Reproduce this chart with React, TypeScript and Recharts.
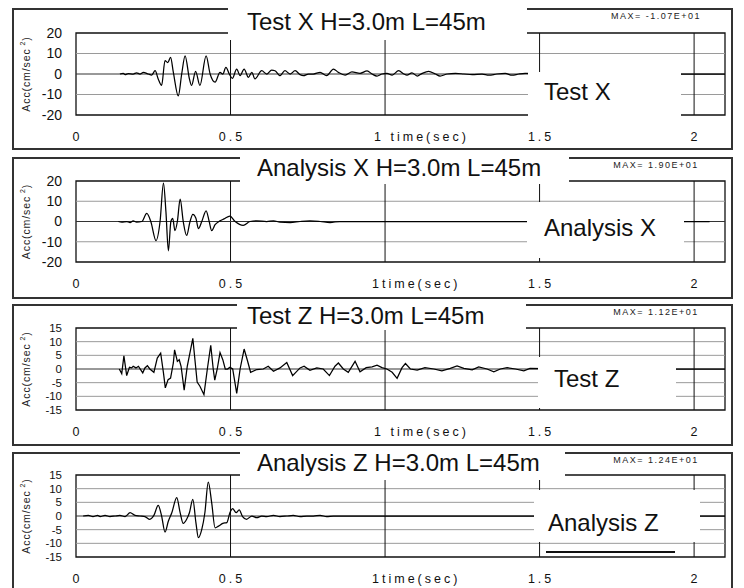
import React from "react";
import { LineChart, Line, XAxis, YAxis, ReferenceLine, ReferenceArea, Label } from "recharts";

const FONT = '"Liberation Sans", Arial, Helvetica, sans-serif';

// time (sec) and acceleration (cm/sec^2)
const testXTime = [0.142, 0.153, 0.159, 0.169, 0.185, 0.196, 0.207, 0.218, 0.234, 0.245, 0.256, 0.266, 0.277, 0.288, 0.297, 0.306, 0.315, 0.331, 0.342, 0.353, 0.367, 0.374, 0.387, 0.401, 0.421, 0.434, 0.45, 0.466, 0.475, 0.485, 0.496, 0.506, 0.52, 0.531, 0.544, 0.558, 0.569, 0.579, 0.601, 0.617, 0.633, 0.644, 0.66, 0.676, 0.693, 0.709, 0.725, 0.736, 0.752, 0.768, 0.79, 0.811, 0.833, 0.849, 0.871, 0.893, 0.919, 0.942, 0.958, 0.974, 0.99, 1.006, 1.023, 1.044, 1.061, 1.071, 1.087, 1.104, 1.12, 1.141, 1.163, 1.178, 1.201, 1.228, 1.255, 1.282, 1.314, 1.336, 1.362, 1.389, 1.411, 1.433, 1.453, 1.6, 1.8, 2.0, 2.1];
const testXAcc = [0, 0.3, -0.3, 0.2, 0, 0.6, 0, 0.8, 0, -0.5, 1.6, -2.4, -5.6, 6.5, 5.6, 8.1, 0.8, -10.7, 0, 8.9, -2.4, -5.6, 1.3, -5.6, 8.9, 0, -4, 0.8, 0, 3.2, 0, -2.1, 2.4, -0.8, 2.4, -1.6, 0.8, -2.4, 1.6, 0, 1.9, 1.6, -0.8, 1.6, 0, 1.6, -0.3, -0.8, 0, 0, 0.8, -0.8, 2.4, 0.8, -0.5, 1.0, 0.3, 1.5, 0, -1, 0, 0.3, -0.5, 1.6, 0, -0.5, 0.6, -1, 0.3, 1.3, 0, -1, 0, 0.3, 0, -0.3, 0, -0.6, 0, 0.3, -0.6, 0, 0.3, 0, 0, 0, 0];

const anaXTime = [0.137, 0.148, 0.164, 0.175, 0.185, 0.196, 0.213, 0.229, 0.242, 0.259, 0.272, 0.283, 0.291, 0.299, 0.307, 0.313, 0.32, 0.328, 0.337, 0.347, 0.358, 0.369, 0.378, 0.388, 0.396, 0.407, 0.421, 0.431, 0.439, 0.45, 0.466, 0.479, 0.498, 0.515, 0.541, 0.563, 0.585, 0.617, 0.639, 0.66, 0.693, 0.725, 0.757, 0.79, 0.822, 0.854, 0.95, 1.1, 1.3, 1.45, 1.7, 2.05];
const anaXAcc = [0, -0.3, 0, -0.5, 0.3, -0.3, 0, 4.0, 0, -9.4, 0, 19.0, 4.8, -14.5, 0, 1.6, -4.5, 0, 11, 0, -6.9, 0, 3.5, 1.6, -3.5, 0, 5.3, 0, -4.5, -1.6, 0.3, 1.3, 2.7, 0, -1.9, 0, 0.3, 0, 0.3, -0.3, -0.5, 0, 0.3, 0, -0.5, 0, 0, 0, 0, 0, 0, 0];

const testZTime = [0.14, 0.148, 0.155, 0.164, 0.173, 0.18, 0.185, 0.194, 0.202, 0.209, 0.216, 0.223, 0.231, 0.239, 0.252, 0.263, 0.274, 0.283, 0.289, 0.298, 0.306, 0.315, 0.319, 0.328, 0.334, 0.34, 0.35, 0.36, 0.378, 0.388, 0.392, 0.401, 0.414, 0.425, 0.436, 0.444, 0.449, 0.457, 0.466, 0.475, 0.483, 0.49, 0.498, 0.507, 0.52, 0.531, 0.544, 0.554, 0.565, 0.585, 0.606, 0.622, 0.639, 0.66, 0.682, 0.701, 0.725, 0.738, 0.757, 0.779, 0.8, 0.82, 0.838, 0.849, 0.865, 0.881, 0.903, 0.919, 0.939, 0.958, 0.974, 0.99, 1.006, 1.023, 1.039, 1.055, 1.066, 1.082, 1.104, 1.129, 1.158, 1.184, 1.211, 1.233, 1.255, 1.282, 1.303, 1.33, 1.352, 1.373, 1.395, 1.422, 1.449, 1.469, 1.6, 1.8, 2.0, 2.1];
const testZAcc = [0, -1.7, 4.8, -2.4, 0.6, 0.4, 1, 0.4, 1, -0.2, -1.4, 0.4, 1.2, 0, -1.2, 4, 5.8, -1.4, -6.9, -3.9, -3.3, 2.2, 7, 2.8, 3.4, 1, -7.7, 1, 11.2, -0.2, -4.8, -6.3, -9.4, 0, 8.7, 0, -4.1, 0, 6, 3.4, 0, 0, 0.6, 0, -8.9, 0, 7.3, 3.4, -1.2, -0.2, 0, 1, -0.8, 0.4, 2.4, -2.4, 0.4, 1, -0.5, 0.4, 0, -2.4, 1, 2.2, 0, -1.2, 2.8, -1, 0.5, 0.8, 1.4, 0.5, 0, -1.2, -3.4, 0.5, 2.0, 0, -0.4, 0.5, 0, -0.7, 0.2, 1.1, 0.2, -0.3, 0.8, 0, -1, 0, 0.5, 0, -0.7, 0.2, 0, 0, 0, 0];

const anaZTime = [0.023, 0.04, 0.055, 0.07, 0.078, 0.094, 0.11, 0.126, 0.142, 0.159, 0.175, 0.191, 0.207, 0.223, 0.239, 0.252, 0.266, 0.277, 0.288, 0.299, 0.31, 0.326, 0.337, 0.347, 0.358, 0.367, 0.378, 0.388, 0.396, 0.407, 0.417, 0.428, 0.439, 0.45, 0.461, 0.475, 0.488, 0.498, 0.507, 0.518, 0.528, 0.539, 0.552, 0.569, 0.585, 0.601, 0.617, 0.639, 0.66, 0.682, 0.703, 0.725, 0.747, 0.768, 0.79, 0.811, 0.833, 0.854, 1.0, 1.2, 1.4, 1.6, 1.8, 2.1];
const anaZAcc = [0, 0.2, -0.2, 0.2, -0.2, 0.2, -0.2, 0, 0.2, -0.2, 1.2, 0.2, 0, -0.2, -1.2, 0.2, 3.9, 0, -5.9, -1.8, 1.2, 6.7, 1.2, -2.7, -1.2, 1.2, 6.1, -2.4, -7.9, -4.9, 1.2, 12.4, 4.9, -4.3, -3.7, -2.7, -2.4, 1.2, 2.7, 1.2, 2.2, -0.2, -1.2, 0, -0.6, 0, -0.2, 0.2, -0.2, 0, 0.2, -0.2, 0, 0, 0.2, -0.2, 0, 0, 0, 0, 0, 0, 0, 0];

const timeTicks = [0, 0.5, 1, 1.5, 2];
const ticks20 = [-20, -10, 0, 10, 20];
const ticks15 = [-15, -10, -5, 0, 5, 10, 15];

const titles = ["Test X H=3.0m L=45m", "Analysis X H=3.0m L=45m", "Test Z H=3.0m L=45m", "Analysis Z H=3.0m L=45m"];
const legends = ["Test X", "Analysis X", "Test Z", "Analysis Z"];
const maxLabels = ["MAX= -1.07E+01", "MAX= 1.90E+01", "MAX= 1.12E+01", "MAX= 1.24E+01"];
const oneLabels = ["1 time(sec)", "1time(sec)", "1 time(sec)", "1time(sec)"];

const toRows = (time: number[], acc: number[]) => time.map((t, i) => ({ t, acc: acc[i] }));

const panelData = [
  { rows: toRows(testXTime, testXAcc), yTicks: ticks20, curve: "monotone" },
  { rows: toRows(anaXTime, anaXAcc), yTicks: ticks20, curve: "monotone" },
  { rows: toRows(testZTime, testZAcc), yTicks: ticks15, curve: "linear" },
  { rows: toRows(anaZTime, anaZAcc), yTicks: ticks15, curve: "monotone" },
];

// page geometry of each panel (frame-relative y)
const boxes = [
  { top: 9, plotTop: 24, plotBottom: 106, tx: 228, tw: 299, tb: 31, ttx: 247, tty: 13, lx: 528, lw: 153, ly: 63, lh: 46, ltx: 544, lty: 83, oneDx: -11 },
  { top: 158, plotTop: 23, plotBottom: 104, tx: 240, tw: 329, tb: 26, ttx: 257, tty: 10, lx: 527, lw: 157, ly: 44, lh: 56, ltx: 544, lty: 70, oneDx: -13 },
  { top: 305, plotTop: 23, plotBottom: 105, tx: 237, tw: 289, tb: 25, ttx: 247, tty: 11, lx: 538, lw: 138, ly: 52, lh: 51, ltx: 554, lty: 74, oneDx: -11 },
  { top: 453, plotTop: 22, plotBottom: 104, tx: 240, tw: 325, tb: 27, ttx: 257, tty: 10, lx: 534, lw: 166, ly: 37, lh: 52, ltx: 548, lty: 70, oneDx: -13 },
];

function TimeTick(props: any) {
  const { x, y, payload, oneLabel, oneDx } = props;
  const v = payload.value;
  const common = { y, dy: "0.71em", fontSize: 12.5, fill: "#111", fontFamily: FONT, letterSpacing: 3 };
  if (v === 1) {
    return <text {...common} x={x + oneDx} textAnchor="start">{oneLabel}</text>;
  }
  return <text {...common} x={x + 1.5} textAnchor="middle">{String(v)}</text>;
}

function AccLabel(props: any) {
  const vb = props.viewBox || { x: 0, y: 0, width: 0, height: 0 };
  const cx = vb.x + 12.5;
  const cy = vb.y + vb.height / 2;
  return (
    <text x={cx} y={cy} transform={`rotate(-90 ${cx} ${cy})`} textAnchor="middle" dominantBaseline="central" fontSize={10.5} letterSpacing={0.9} fill="#222" fontFamily={FONT}>
      Acc(cm/sec<tspan dy={-4} fontSize={7}> 2</tspan><tspan dy={4}>)</tspan>
    </text>
  );
}

function Panel({ idx }: { idx: number }) {
  const d = panelData[idx];
  const b = boxes[idx];
  const yMax = d.yTicks[d.yTicks.length - 1];
  const grid = d.yTicks.filter((v) => v !== 0 && Math.abs(v) !== yMax);
  const yFont = d.yTicks.length > 5 ? 11.5 : 14;
  return (
    <>
      <div style={{ position: "absolute", left: 13, top: b.top, width: 719, height: 140 }}>
        <LineChart width={719} height={140} data={d.rows} margin={{ top: b.plotTop, right: 7, bottom: 0, left: 0 }}>
          <XAxis
            dataKey="t"
            type="number"
            domain={[0, 2.1]}
            ticks={timeTicks}
            interval={0}
            allowDataOverflow
            axisLine={false}
            tickLine={false}
            tickSize={6}
            tickMargin={11}
            height={140 - b.plotBottom}
            tick={<TimeTick oneLabel={oneLabels[idx]} oneDx={b.oneDx} />}
          />
          <YAxis
            type="number"
            domain={[-yMax, yMax]}
            ticks={d.yTicks}
            interval={0}
            allowDataOverflow
            axisLine={false}
            tickLine={false}
            width={63}
            tickSize={6}
            tickMargin={8}
            tick={{ fontSize: yFont, fill: "#111", fontFamily: FONT }}
          >
            <Label content={<AccLabel />} />
          </YAxis>
          {grid.map((v) => (
            <ReferenceLine key={"h" + v} y={v} stroke="#9a9a9a" strokeWidth={1} />
          ))}
          {timeTicks.slice(1).map((v) => (
            <ReferenceLine key={"v" + v} x={v} stroke="#111" strokeWidth={1} />
          ))}
          <ReferenceLine y={0} stroke="#333" strokeWidth={1} />
          <ReferenceArea x1={0} x2={2.1} y1={-yMax} y2={yMax} fill="none" fillOpacity={0} stroke="#111" strokeWidth={1.3} />
          <Line dataKey="acc" type={d.curve as any} stroke="#000" strokeWidth={1.25} dot={false} isAnimationActive={false} />
        </LineChart>
      </div>
      {/* outer frame */}
      <div style={{ position: "absolute", left: 12, top: b.top - 1, width: 721, height: 142, border: "2px solid #333", boxSizing: "border-box" }} />
      {/* title box */}
      <div style={{ position: "absolute", left: b.tx, top: b.top - 3, width: b.tw, height: b.tb + 3, background: "#fff" }} />
      <div style={{ position: "absolute", left: b.ttx, top: b.top + b.tty - 15, height: 30, lineHeight: "30px", fontSize: 24, fontFamily: FONT, color: "#111", whiteSpace: "nowrap" }}>
        {titles[idx]}
      </div>
      <div style={{ position: "absolute", left: 606, width: 100, top: b.top + 7 - 6, height: 12, lineHeight: "12px", textAlign: "center", fontSize: 9, letterSpacing: 1.5, fontFamily: FONT, color: "#222", whiteSpace: "nowrap" }}>
        {maxLabels[idx]}
      </div>
      {/* legend box */}
      <div style={{ position: "absolute", left: b.lx, top: b.top + b.ly, width: b.lw, height: b.lh, background: "#fff" }} />
      <div style={{ position: "absolute", left: b.ltx, top: b.top + b.lty - 15, height: 30, lineHeight: "30px", fontSize: 24, fontFamily: FONT, color: "#111", whiteSpace: "nowrap" }}>
        {legends[idx]}
      </div>
      {idx === 3 && <div style={{ position: "absolute", left: 546, top: b.top + 98, width: 129, height: 2, background: "#111" }} />}
    </>
  );
}

export default function App() {
  return (
    <div style={{ position: "absolute", left: 0, top: 0, width: 744, height: 588, overflow: "hidden", background: "#fff", fontFamily: FONT }}>
      {[0, 1, 2, 3].map((i) => (
        <Panel key={i} idx={i} />
      ))}
    </div>
  );
}
